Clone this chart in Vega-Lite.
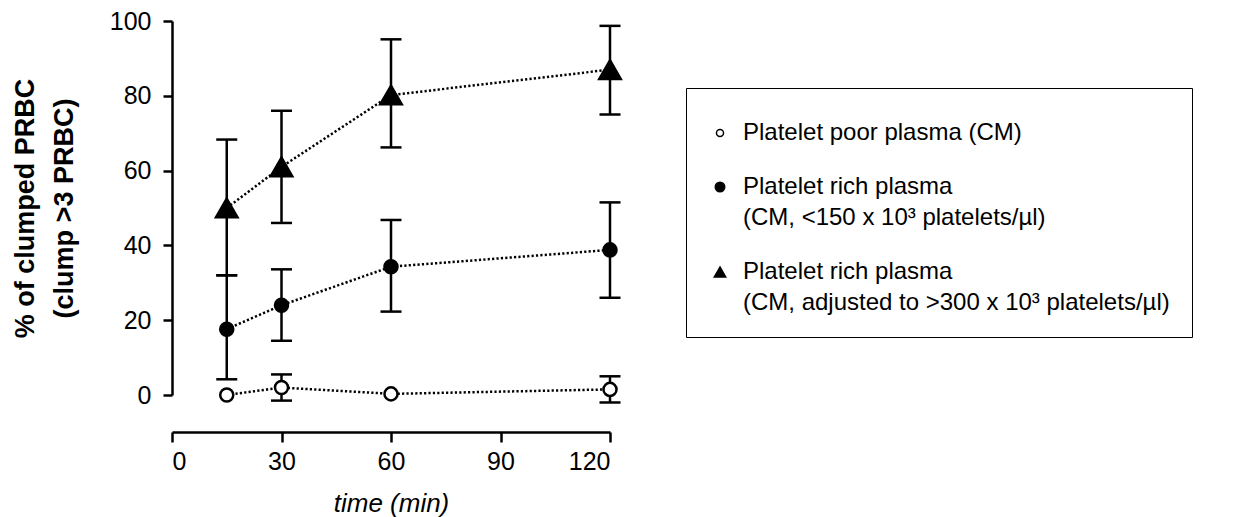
{
  "$schema": "https://vega.github.io/schema/vega-lite/v6.json",
  "width": 438,
  "height": 374,
  "autosize": {"type": "none"},
  "padding": {"left": 172, "top": 21, "right": 644, "bottom": 122},
  "background": "white",
  "config": {
    "view": {"stroke": null},
    "style": {"guide-label": {"lineHeight": 31}},
    "axis": {
      "domainColor": "black", "domainWidth": 2.5, "tickColor": "black", "tickWidth": 2.5,
      "labelColor": "black", "labelFont": "Liberation Sans", "labelFontSize": 25,
      "titleColor": "black", "titleFont": "Liberation Sans", "titleFontSize": 26,
      "grid": false
    },
    "legend": {
      "labelFont": "Liberation Sans", "labelFontSize": 24, "labelColor": "black",
      "labelLimit": 700
    }
  },
  "data": {
    "values": [
      {"series": "Platelet poor plasma (CM)", "time": 15, "mean": 0, "lo": null, "hi": null},
      {"series": "Platelet poor plasma (CM)", "time": 30, "mean": 2, "lo": -1.5, "hi": 5.5},
      {"series": "Platelet poor plasma (CM)", "time": 60, "mean": 0.3, "lo": null, "hi": null},
      {"series": "Platelet poor plasma (CM)", "time": 120, "mean": 1.5, "lo": -2, "hi": 5},
      {"series": "Platelet rich plasma (CM, <150 x 10³ platelets/µl)", "time": 15, "mean": 17.6, "lo": 4.2, "hi": 32},
      {"series": "Platelet rich plasma (CM, <150 x 10³ platelets/µl)", "time": 30, "mean": 24, "lo": 14.5, "hi": 33.6},
      {"series": "Platelet rich plasma (CM, <150 x 10³ platelets/µl)", "time": 60, "mean": 34.3, "lo": 22.3, "hi": 46.8},
      {"series": "Platelet rich plasma (CM, <150 x 10³ platelets/µl)", "time": 120, "mean": 38.8, "lo": 26, "hi": 51.5},
      {"series": "Platelet rich plasma (CM, adjusted to >300 x 10³ platelets/µl)", "time": 15, "mean": 50, "lo": 32, "hi": 68.3},
      {"series": "Platelet rich plasma (CM, adjusted to >300 x 10³ platelets/µl)", "time": 30, "mean": 61, "lo": 46, "hi": 76},
      {"series": "Platelet rich plasma (CM, adjusted to >300 x 10³ platelets/µl)", "time": 60, "mean": 80.2, "lo": 66.2, "hi": 95.1},
      {"series": "Platelet rich plasma (CM, adjusted to >300 x 10³ platelets/µl)", "time": 120, "mean": 87, "lo": 75, "hi": 98.7}
    ]
  },
  "encoding": {
    "x": {
      "field": "time", "type": "quantitative",
      "scale": {"domain": [0, 120], "nice": false, "zero": false},
      "axis": {
        "values": [0, 30, 60, 90, 120], "offset": 37, "tickSize": 10, "labelPadding": 7,
        "title": "time (min)", "titleFontStyle": "italic", "titleFontWeight": "normal", "titlePadding": 16
      }
    }
  },
  "layer": [
    {
      "mark": {"type": "rule", "color": "black", "strokeWidth": 2.5},
      "encoding": {
        "y": {"field": "lo", "type": "quantitative"},
        "y2": {"field": "hi"}
      }
    },
    {
      "mark": {"type": "tick", "orient": "horizontal", "color": "black", "size": 21, "thickness": 2.5, "opacity": 1},
      "encoding": {"y": {"field": "lo", "type": "quantitative"}}
    },
    {
      "mark": {"type": "tick", "orient": "horizontal", "color": "black", "size": 21, "thickness": 2.5, "opacity": 1},
      "encoding": {"y": {"field": "hi", "type": "quantitative"}}
    },
    {
      "mark": {"type": "line", "color": "black", "strokeWidth": 2.5, "strokeDash": [2.2, 2.2]},
      "encoding": {
        "y": {"field": "mean", "type": "quantitative"},
        "detail": {"field": "series"}
      }
    },
    {
      "mark": {"type": "point", "filled": true, "stroke": "black", "strokeWidth": 2, "opacity": 1},
      "encoding": {
        "y": {
          "field": "mean", "type": "quantitative",
          "scale": {"domain": [0, 100], "nice": false},
          "axis": {
            "values": [0, 20, 40, 60, 80, 100], "tickSize": 9, "labelPadding": 12,
            "title": ["% of clumped PRBC", "(clump >3 PRBC)"], "titleFontWeight": "bold", "titleFontSize": 27,
            "titleLineHeight": 39, "titlePadding": 31
          }
        },
        "shape": {
          "field": "series", "type": "nominal",
          "scale": {
            "domain": ["Platelet poor plasma (CM)", "Platelet rich plasma (CM, <150 x 10³ platelets/µl)", "Platelet rich plasma (CM, adjusted to >300 x 10³ platelets/µl)"],
            "range": ["circle", "circle", "triangle-up"]
          },
          "legend": {
            "title": " ", "titleFontSize": 8, "titlePadding": 3, "orient": "none", "legendX": 514, "legendY": 67,
            "padding": 22, "strokeColor": "black", "fillColor": "white",
            "rowPadding": 30, "labelOffset": 11,
            "labelExpr": "datum.value == 'Platelet poor plasma (CM)' ? datum.value : ['Platelet rich plasma', substring(datum.value, 21)]",
            "encode": {
              "legend": {"update": {"strokeWidth": {"value": 2}}},
              "symbols": {"update": {"stroke": {"value": "black"}, "strokeWidth": {"value": 2}}}
            }
          }
        },
        "fill": {
          "field": "series", "type": "nominal",
          "scale": {
            "domain": ["Platelet poor plasma (CM)", "Platelet rich plasma (CM, <150 x 10³ platelets/µl)", "Platelet rich plasma (CM, adjusted to >300 x 10³ platelets/µl)"],
            "range": ["white", "black", "black"]
          },
          "legend": {
            "title": " ", "titleFontSize": 8, "titlePadding": 3, "orient": "none", "legendX": 514, "legendY": 67,
            "padding": 22, "strokeColor": "black", "fillColor": "white",
            "rowPadding": 30, "labelOffset": 11,
            "labelExpr": "datum.value == 'Platelet poor plasma (CM)' ? datum.value : ['Platelet rich plasma', substring(datum.value, 21)]",
            "encode": {
              "legend": {"update": {"strokeWidth": {"value": 2}}},
              "symbols": {"update": {"stroke": {"value": "black"}, "strokeWidth": {"value": 2}}}
            }
          }
        },
        "size": {
          "field": "series", "type": "nominal",
          "scale": {
            "domain": ["Platelet poor plasma (CM)", "Platelet rich plasma (CM, <150 x 10³ platelets/µl)", "Platelet rich plasma (CM, adjusted to >300 x 10³ platelets/µl)"],
            "range": [50, 130, 440]
          },
          "legend": {
            "title": " ", "titleFontSize": 8, "titlePadding": 3, "orient": "none", "legendX": 514, "legendY": 67,
            "padding": 22, "strokeColor": "black", "fillColor": "white",
            "rowPadding": 30, "labelOffset": 11,
            "labelExpr": "datum.value == 'Platelet poor plasma (CM)' ? datum.value : ['Platelet rich plasma', substring(datum.value, 21)]",
            "encode": {
              "legend": {"update": {"strokeWidth": {"value": 2}}},
              "symbols": {"update": {"stroke": {"value": "black"}, "strokeWidth": {"value": 2}}}
            }
          }
        }
      }
    },
    {
      "mark": {"type": "point", "filled": true, "stroke": "black", "strokeWidth": 2.5, "opacity": 1, "size": 170},
      "transform": [{"filter": "datum.series != 'Platelet rich plasma (CM, adjusted to >300 x 10³ platelets/µl)'"}],
      "encoding": {
        "y": {"field": "mean", "type": "quantitative"},
        "shape": {"field": "series", "type": "nominal"},
        "fill": {"field": "series", "type": "nominal"}
      }
    },
    {
      "mark": {"type": "point", "filled": true, "stroke": "black", "strokeWidth": 2.5, "opacity": 1, "size": 460},
      "transform": [{"filter": "datum.series == 'Platelet rich plasma (CM, adjusted to >300 x 10³ platelets/µl)'"}],
      "encoding": {
        "y": {"field": "mean", "type": "quantitative"},
        "shape": {"field": "series", "type": "nominal"},
        "fill": {"field": "series", "type": "nominal"}
      }
    }
  ]
}
